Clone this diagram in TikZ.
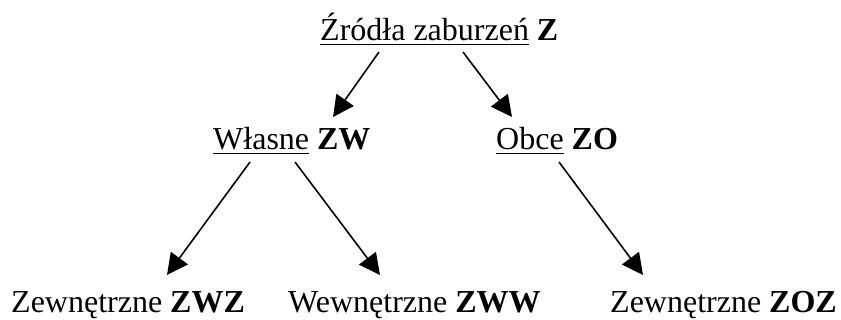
\documentclass[tikz,border=0pt]{standalone}
\usepackage{fontspec}
\setmainfont{Liberation Serif}
\usetikzlibrary{arrows.meta}
\newcommand\myul[1]{\setbox0\hbox{#1}\rlap{\rule[-4.5pt]{\wd0}{1.6pt}}\box0\relax}
\tikzset{
  lbl/.style={anchor=base west, inner sep=0pt, font=\fontsize{32}{38}\selectfont},
  arr/.style={line width=1.6pt, -{Triangle[length=21pt,width=21pt]}}
}
\begin{document}
\begin{tikzpicture}[x=1pt,y=-1pt]
\useasboundingbox (0,0) rectangle (841,320);
\node[lbl] (Z)   at (320,41)  {\myul{Źródła zaburzeń} \textbf{Z}};
\node[lbl] (ZW)  at (213,150) {\myul{Własne} \textbf{ZW}};
\node[lbl] (ZO)  at (496,150) {\myul{Obce} \textbf{ZO}};
\node[lbl] (ZWZ) at (11,313)  {Zewnętrzne \textbf{ZWZ}};
\node[lbl] (ZWW) at (288,313) {Wewnętrzne \textbf{ZWW}};
\node[lbl] (ZOZ) at (610,313) {Zewnętrzne \textbf{ZOZ}};
\draw[arr] ([shift={(59,11)}]Z.base west) -- ([shift={(120,-33)}]ZW.base west);
\draw[arr] ([shift={(143,11)}]Z.base west) -- ([shift={(16,-33)}]ZO.base west);
\draw[arr] ([shift={(37,12)}]ZW.base west) -- ([shift={(156,-38)}]ZWZ.base west);
\draw[arr] ([shift={(82,12)}]ZW.base west) -- ([shift={(92,-38)}]ZWW.base west);
\draw[arr] ([shift={(63,12)}]ZO.base west) -- ([shift={(33,-38)}]ZOZ.base west);
\end{tikzpicture}
\end{document}
